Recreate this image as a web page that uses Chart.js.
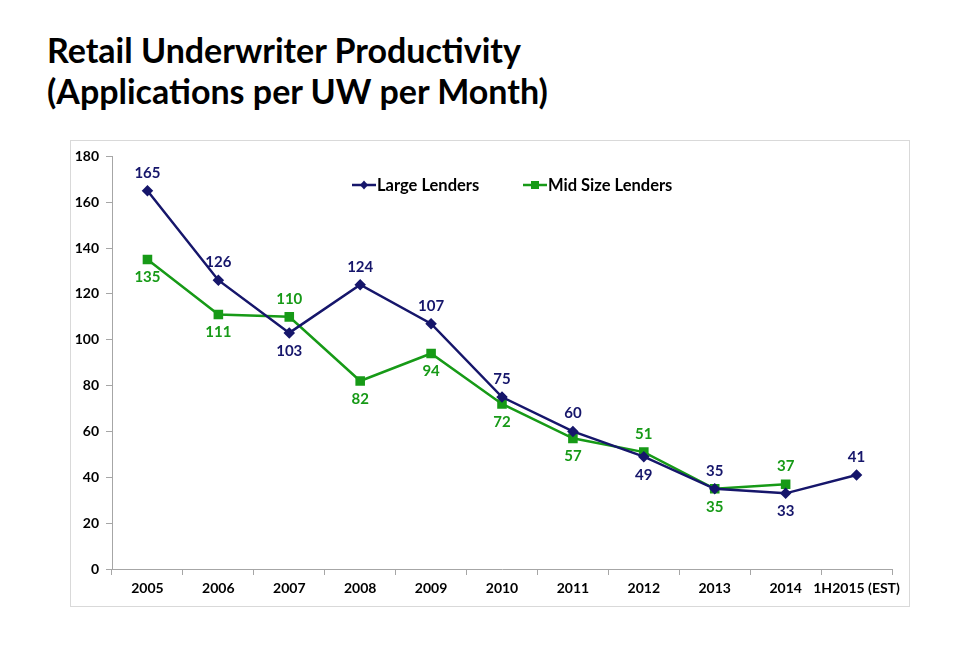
<!DOCTYPE html>
<html>
<head>
<meta charset="utf-8">
<script src="https://cdn.jsdelivr.net/npm/chart.js@4/dist/chart.umd.min.js"></script>
<style>
  body { margin: 0; background: #fff; width: 977px; height: 654px; position: relative; overflow: hidden; }
  h1 { position: absolute; left: 47px; top: 29px; margin: 0; font: bold 34px/41px Lato, sans-serif; color: #000; }
  #box { position: absolute; left: 70px; top: 140px; width: 838px; height: 465px; border: 1px solid #d9d9d9; }
</style>
</head>
<body>
<h1>Retail Underwriter Productivity<br>(Applications per UW per Month)</h1>
<div id="box"><canvas id="c" width="838" height="465"></canvas></div>
<script>
// values
const categories = ['2005', '2006', '2007', '2008', '2009', '2010', '2011', '2012', '2013', '2014', '1H2015 (EST)'];
const largeLenders = [165, 126, 103, 124, 107, 75, 60, 49, 35, 33, 41];
const midSizeLenders = [135, 111, 110, 82, 94, 72, 57, 51, 35, 37, null];
const yTicks = [0, 20, 40, 60, 80, 100, 120, 140, 160, 180];

const NAVY = '#16166b';
const GREEN = '#179a17';
const FONT = 'Lato, sans-serif';

// labels above/below the point depending on which line is higher
const labelPlugin = {
  id: 'pointLabels',
  afterDatasetsDraw(chart) {
    const ctx = chart.ctx;
    const [a, b] = chart.data.datasets;
    ctx.save();
    ctx.font = 'bold 15px ' + FONT;
    ctx.textAlign = 'center';
    ctx.textBaseline = 'middle';
    chart.data.datasets.forEach((ds, di) => {
      const meta = chart.getDatasetMeta(di);
      ds.data.forEach((v, i) => {
        if (v == null) return;
        const other = (di === 0 ? b : a).data[i];
        let above;
        if (di === 0) above = other == null || v >= other;
        else above = v > other;
        const p = meta.data[i];
        ctx.fillStyle = ds.borderColor;
        ctx.fillText(String(v), p.x, p.y + (above ? -18 : 18));
      });
    });
    ctx.restore();
  }
};

// legend sitting inside the plot area
const legendPlugin = {
  id: 'innerLegend',
  afterDraw(chart) {
    const ctx = chart.ctx;
    const spots = [281, 452];
    ctx.save();
    ctx.font = 'bold 16.5px ' + FONT;
    ctx.textBaseline = 'middle';
    chart.data.datasets.forEach((ds, i) => {
      const x = spots[i], y = 44;
      ctx.strokeStyle = ds.borderColor;
      ctx.lineWidth = 2.5;
      ctx.beginPath();
      ctx.moveTo(x, y);
      ctx.lineTo(x + 24, y);
      ctx.stroke();
      ctx.fillStyle = ds.borderColor;
      if (ds.pointStyle === 'rect') {
        ctx.fillRect(x + 8, y - 4, 8, 8);
      } else {
        ctx.beginPath();
        ctx.moveTo(x + 12, y - 4.5);
        ctx.lineTo(x + 16, y);
        ctx.lineTo(x + 12, y + 4.5);
        ctx.lineTo(x + 8, y);
        ctx.closePath();
        ctx.fill();
      }
      ctx.fillStyle = '#000';
      ctx.fillText(ds.label, x + 25, y + 1);
    });
    ctx.restore();
  }
};

new Chart(document.getElementById('c'), {
  type: 'line',
  data: {
    labels: categories,
    datasets: [
      {
        label: 'Large Lenders',
        data: largeLenders,
        borderColor: NAVY,
        backgroundColor: NAVY,
        borderWidth: 2.5,
        pointStyle: 'rectRot',
        pointRadius: 4,
        pointHoverRadius: 4,
        tension: 0
      },
      {
        label: 'Mid Size Lenders',
        data: midSizeLenders,
        borderColor: GREEN,
        backgroundColor: GREEN,
        borderWidth: 2.5,
        pointStyle: 'rect',
        pointRadius: 5,
        pointHoverRadius: 5,
        tension: 0
      }
    ]
  },
  options: {
    responsive: false,
    animation: false,
    events: [],
    layout: { padding: { top: 14, right: 17, left: 0, bottom: 0 } },
    plugins: { legend: { display: false }, tooltip: { enabled: false } },
    scales: {
      x: {
        offset: true,
        grid: { drawOnChartArea: false, color: '#a6a6a6', tickLength: 6, offset: true },
        border: { color: '#a6a6a6' },
        ticks: { color: '#000', font: { family: FONT, weight: 'bold', size: 14 }, padding: 5, maxRotation: 0, autoSkip: false },
        afterFit(s) { s.height = 37; }
      },
      y: {
        min: 0,
        max: 180,
        afterBuildTicks(s) { s.ticks = yTicks.map(v => ({ value: v })); },
        grid: { drawOnChartArea: false, color: '#a6a6a6', tickLength: 6 },
        border: { color: '#a6a6a6' },
        ticks: { color: '#000', font: { family: FONT, weight: 'bold', size: 14 }, padding: 7 },
        afterFit(s) { s.width = 41; }
      }
    }
  },
  plugins: [labelPlugin, legendPlugin]
});
</script>
</body>
</html>
